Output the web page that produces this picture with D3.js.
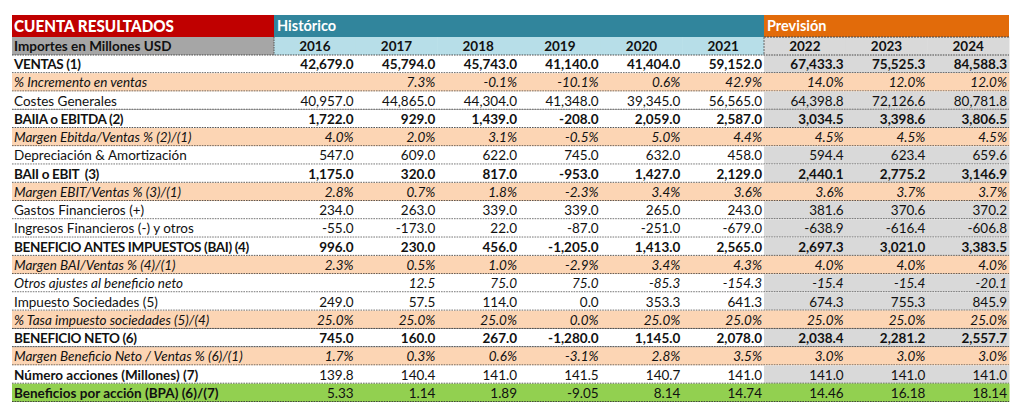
<!DOCTYPE html>
<html>
<head>
<meta charset="utf-8">
<script src="https://cdn.jsdelivr.net/npm/d3@7"></script>
<style>
  body { margin: 0; background: #fff; }
  text { font-family: Lato, "Open Sans", sans-serif; white-space: pre; }
</style>
</head>
<body>
<svg width="1024" height="413"></svg>
<script>
"use strict";

// column headers
let years = ["2016", "2017", "2018", "2019", "2020", "2021", "2022", "2023", "2024"];
let histYears = ["2016", "2017", "2018", "2019", "2020", "2021"];
let prevYears = ["2022", "2023", "2024"];

// row labels, in table order
let rowLabels = [
    "VENTAS (1)",
    "% Incremento en ventas",
    "Costes Generales",
    "BAIIA o EBITDA (2)",
    "Margen Ebitda/Ventas % (2)/(1)",
    "Depreciación & Amortización",
    "BAII o EBIT  (3)",
    "Margen EBIT/Ventas % (3)/(1)",
    "Gastos Financieros (+)",
    "Ingresos Financieros (-) y otros",
    "BENEFICIO ANTES IMPUESTOS (BAI) (4)",
    "Margen BAI/Ventas % (4)/(1)",
    "Otros ajustes al beneficio neto",
    "Impuesto Sociedades (5)",
    "% Tasa impuesto sociedades (5)/(4)",
    "BENEFICIO NETO (6)",
    "Margen Beneficio Neto / Ventas % (6)/(1)",
    "Número acciones (Millones) (7)",
    "Beneficios por acción (BPA) (6)/(7)"
];

// row kinds: b = bold, p = percent (italic, peach), n = normal, i = italic, s = shares, e = eps
let rowKinds = ["b", "p", "n", "b", "p", "n", "b", "p", "n", "n", "b", "p", "i", "n", "p", "b", "p", "s", "e"];

let ventas      = [42679.0, 45794.0, 45743.0, 41140.0, 41404.0, 59152.0, 67433.3, 75525.3, 84588.3];
let incVentas   = [null, 7.3, -0.1, -10.1, 0.6, 42.9, 14.0, 12.0, 12.0];
let costes      = [40957.0, 44865.0, 44304.0, 41348.0, 39345.0, 56565.0, 64398.8, 72126.6, 80781.8];
let ebitda      = [1722.0, 929.0, 1439.0, -208.0, 2059.0, 2587.0, 3034.5, 3398.6, 3806.5];
let mEbitda     = [4.0, 2.0, 3.1, -0.5, 5.0, 4.4, 4.5, 4.5, 4.5];
let amort       = [547.0, 609.0, 622.0, 745.0, 632.0, 458.0, 594.4, 623.4, 659.6];
let ebit        = [1175.0, 320.0, 817.0, -953.0, 1427.0, 2129.0, 2440.1, 2775.2, 3146.9];
let mEbit       = [2.8, 0.7, 1.8, -2.3, 3.4, 3.6, 3.6, 3.7, 3.7];
let gastosFin   = [234.0, 263.0, 339.0, 339.0, 265.0, 243.0, 381.6, 370.6, 370.2];
let ingresosFin = [-55.0, -173.0, 22.0, -87.0, -251.0, -679.0, -638.9, -616.4, -606.8];
let bai         = [996.0, 230.0, 456.0, -1205.0, 1413.0, 2565.0, 2697.3, 3021.0, 3383.5];
let mBai        = [2.3, 0.5, 1.0, -2.9, 3.4, 4.3, 4.0, 4.0, 4.0];
let otrosAj     = [null, 12.5, 75.0, 75.0, -85.3, -154.3, -15.4, -15.4, -20.1];
let impuesto    = [249.0, 57.5, 114.0, 0.0, 353.3, 641.3, 674.3, 755.3, 845.9];
let tasaImp     = [25.0, 25.0, 25.0, 0.0, 25.0, 25.0, 25.0, 25.0, 25.0];
let bNeto       = [745.0, 160.0, 267.0, -1280.0, 1145.0, 2078.0, 2038.4, 2281.2, 2557.7];
let mNeto       = [1.7, 0.3, 0.6, -3.1, 2.8, 3.5, 3.0, 3.0, 3.0];
let acciones    = [139.8, 140.4, 141.0, 141.5, 140.7, 141.0, 141.0, 141.0, 141.0];
let bpa         = [5.33, 1.14, 1.89, -9.05, 8.14, 14.74, 14.46, 16.18, 18.14];

let rowValues = [ventas, incVentas, costes, ebitda, mEbitda, amort, ebit, mEbit, gastosFin,
    ingresosFin, bai, mBai, otrosAj, impuesto, tasaImp, bNeto, mNeto, acciones, bpa];

// rows that get a solid grey rule underneath
let solidBelow = [2, 14, 15];

let svg = d3.select("svg");

let left = 12, labelW = 262, right = 1009;
let tTop = 15, head1H = 22, head2H = 18, tBottom = 402;

let x = d3.scaleBand().domain(years).range([left + labelW, right]);
let y = d3.scaleBand().domain(d3.range(rowLabels.length)).range([tTop + head1H + head2H, tBottom]);

let fmt1 = d3.format(",.1f");
let fmt2 = d3.format(".2f");
function fmtVal(v, kind) {
    if (v == null) return "";
    let s;
    if (kind == "p") s = fmt1(v) + "%";
    else if (kind == "e") s = fmt2(v);
    else s = fmt1(v);
    return s.replace("−", "-");
}

let C = {
    red: "#C00000", teal: "#31859C", orange: "#E26B0A",
    grey: "#A6A6A6", lblue: "#B7DEE8", lgrey: "#D9D9D9",
    peach: "#FCD5B4", green: "#92D050"
};

// ---- header row 1
svg.append("rect").attr("x", left).attr("y", tTop).attr("width", labelW).attr("height", head1H).attr("fill", C.red);
svg.append("rect").attr("x", x("2016")).attr("y", tTop).attr("width", x.bandwidth() * histYears.length).attr("height", head1H).attr("fill", C.teal);
svg.append("rect").attr("x", x("2022")).attr("y", tTop).attr("width", x.bandwidth() * prevYears.length).attr("height", head1H).attr("fill", C.orange);

svg.append("text").attr("x", left + 2).attr("y", tTop + head1H / 2 + 6)
    .attr("fill", "#fff").attr("font-weight", "900").attr("font-size", "17.5px")
    .attr("textLength", 160).attr("lengthAdjust", "spacingAndGlyphs").text("CUENTA RESULTADOS");
svg.append("text").attr("x", x("2016") + 3).attr("y", tTop + head1H / 2 + 5)
    .attr("fill", "#fff").attr("font-weight", "bold").attr("font-size", "14.5px").text("Histórico");
svg.append("text").attr("x", x("2022") + 3).attr("y", tTop + head1H / 2 + 5)
    .attr("fill", "#fff").attr("font-weight", "bold").attr("font-size", "14.5px").text("Previsión");

// ---- header row 2
let h2y = tTop + head1H;
svg.append("rect").attr("x", left).attr("y", h2y).attr("width", labelW).attr("height", head2H).attr("fill", C.grey);
svg.selectAll(".yearbg").data(years).enter().append("rect")
    .attr("x", d => x(d)).attr("y", h2y).attr("width", x.bandwidth() + 0.5).attr("height", head2H)
    .attr("fill", d => prevYears.includes(d) ? C.lgrey : C.lblue);
svg.append("text").attr("x", left + 2).attr("y", h2y + head2H / 2 + 5)
    .attr("font-weight", "bold").attr("font-size", "13.5px").attr("fill", "#111").text("Importes en Millones USD");
svg.selectAll(".year").data(years).enter().append("text")
    .attr("x", d => x(d) + x.bandwidth() / 2).attr("y", h2y + head2H / 2 + 5)
    .attr("text-anchor", "middle").attr("font-weight", "bold").attr("font-size", "13.5px").attr("fill", "#111")
    .text(d => d);
svg.append("line").attr("x1", left + labelW).attr("x2", left + labelW).attr("y1", h2y).attr("y2", h2y + head2H)
    .attr("stroke", "#555").attr("stroke-dasharray", "1.5,1");
svg.append("line").attr("x1", x("2022")).attr("x2", right).attr("y1", h2y).attr("y2", h2y)
    .attr("stroke", "#444").attr("stroke-dasharray", "2,1");
svg.append("line").attr("x1", x("2022")).attr("x2", x("2022")).attr("y1", h2y).attr("y2", h2y + head2H)
    .attr("stroke", "#666").attr("stroke-dasharray", "2,1");

// ---- body
let rows = svg.append("g").selectAll("g").data(rowLabels).enter().append("g")
    .attr("transform", (d, i) => "translate(0," + y(i) + ")");

function rowFill(kind, prev) {
    if (kind == "p") return C.peach;
    if (kind == "e") return C.green;
    return prev ? C.lgrey : "#fff";
}

rows.each(function (label, i) {
    let g = d3.select(this);
    let kind = rowKinds[i];
    let h = y.bandwidth();

    g.append("rect").attr("x", left).attr("y", 0).attr("width", right - left).attr("height", h)
        .attr("fill", rowFill(kind, false));
    g.selectAll(".prev").data(prevYears).enter().append("rect")
        .attr("x", d => x(d)).attr("y", 0).attr("width", x.bandwidth() + 0.5).attr("height", h)
        .attr("fill", rowFill(kind, true));

    let lbl = g.append("text").attr("x", left + 2).attr("y", h / 2 + 5)
        .attr("font-size", "13.5px").attr("fill", "#111").text(label);
    if (kind == "b") lbl.attr("font-weight", "bold").attr("letter-spacing", "-0.35px");
    if (kind == "s" || kind == "e") lbl.attr("font-weight", "bold");
    if (kind == "p" || kind == "i") lbl.attr("font-style", "italic");

    let vals = g.selectAll(".val").data(rowValues[i]).enter().append("text")
        .attr("x", (d, j) => x(years[j]) + x.bandwidth() - 2).attr("y", h / 2 + 5)
        .attr("text-anchor", "end").attr("font-size", "13.5px").attr("fill", "#111")
        .text(d => fmtVal(d, kind));
    if (kind == "b") vals.attr("font-weight", "bold");
    if (kind == "p" || kind == "i") vals.attr("font-style", "italic");

    // bottom rule
    if (solidBelow.includes(i)) {
        g.append("line").attr("x1", left).attr("x2", right).attr("y1", h).attr("y2", h)
            .attr("stroke", "#8c8c8c").attr("stroke-width", 1.2);
    }
    g.append("line").attr("x1", left).attr("x2", right).attr("y1", h - 0.5).attr("y2", h - 0.5)
        .attr("stroke", "#3a3a3a").attr("stroke-width", 0.9).attr("stroke-dasharray", "1.6,1");
});

// dashed line under header row 2
svg.append("line").attr("x1", left).attr("x2", right).attr("y1", y(0)).attr("y2", y(0))
    .attr("stroke", "#3a3a3a").attr("stroke-width", 0.9).attr("stroke-dasharray", "1.6,1");
</script>
</body>
</html>
